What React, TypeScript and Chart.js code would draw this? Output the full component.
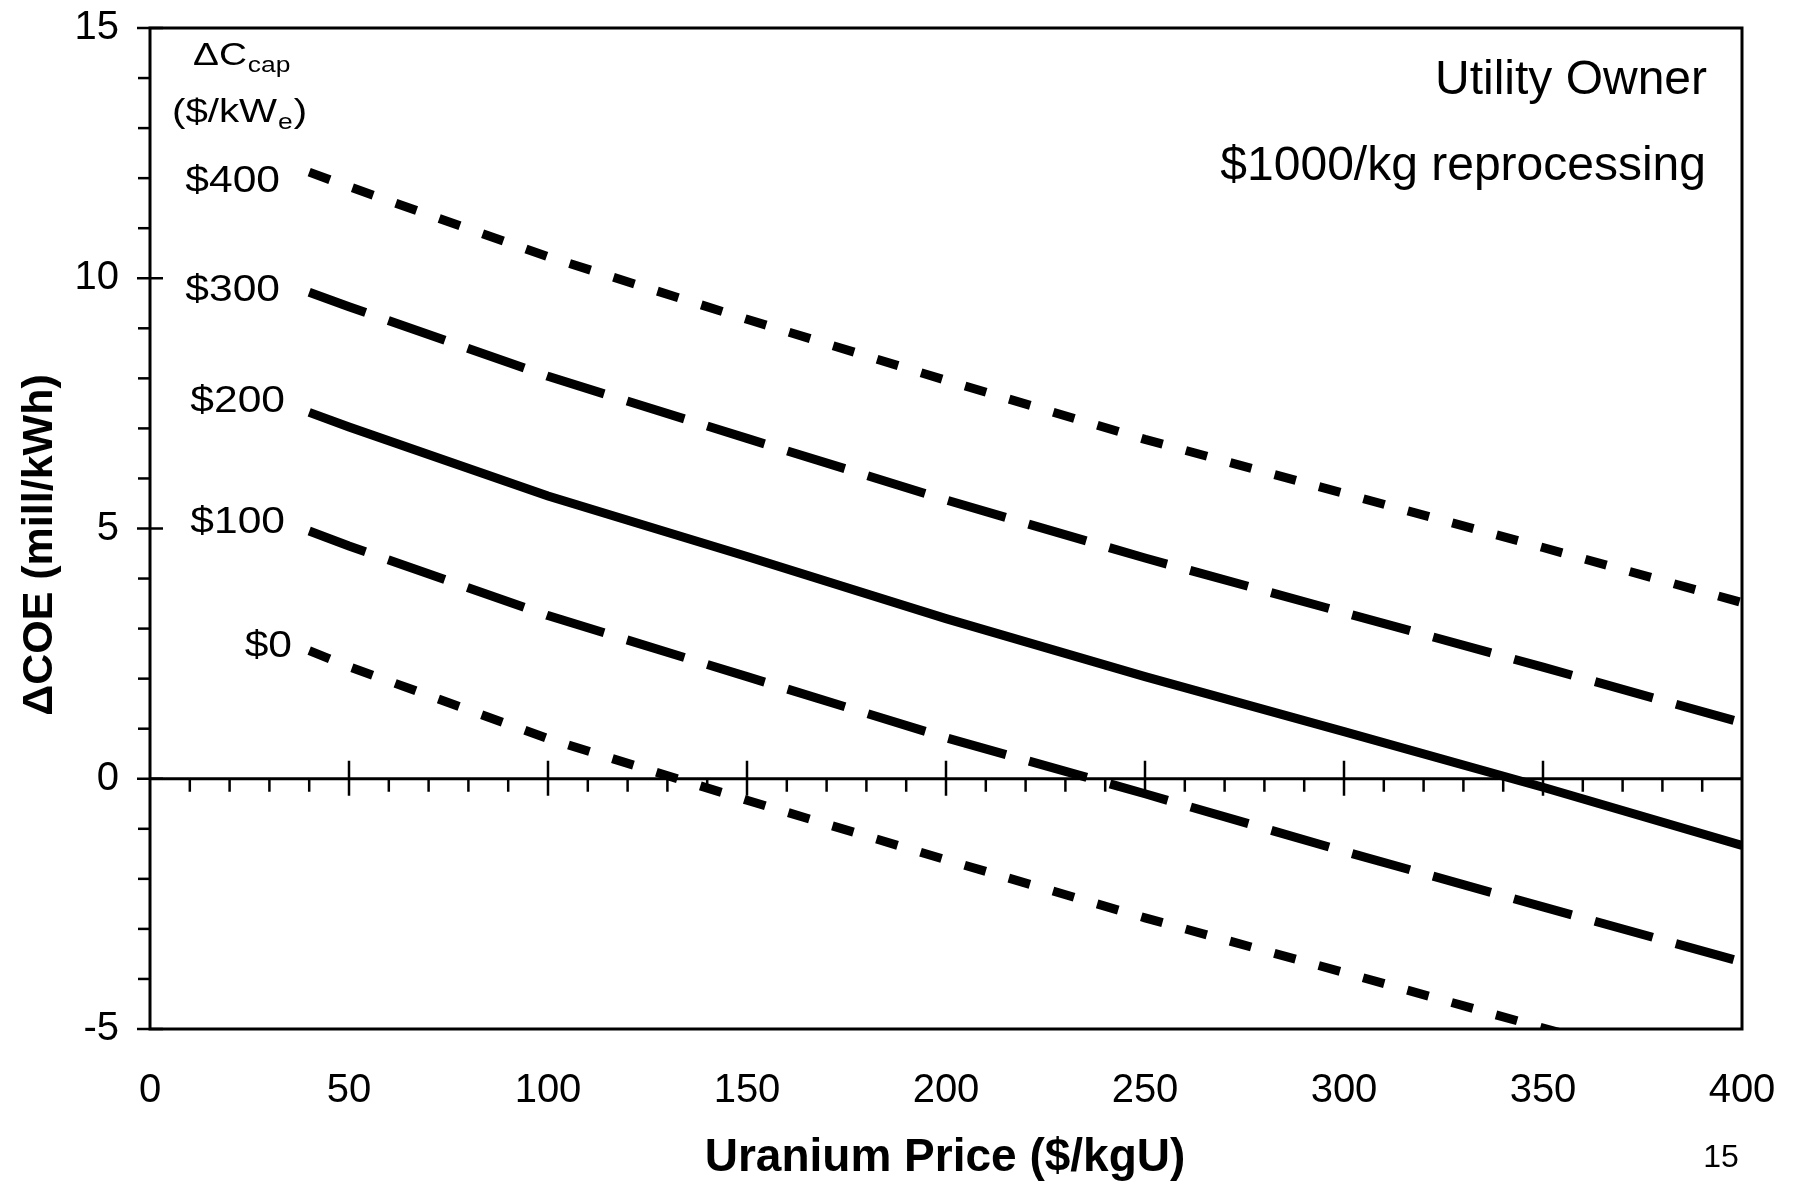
import { useEffect, useRef } from "react";
import { Chart, registerables } from "chart.js";

Chart.register(...registerables);

// ---- data ----
const uraniumPrice = [40, 50, 100, 150, 200, 250, 300, 350, 400];
const dcoeCap400 = [12.12, 11.83, 10.43, 9.18, 7.96, 6.78, 5.7, 4.62, 3.52];
const dcoeCap300 = [9.72, 9.43, 8.04, 6.8, 5.57, 4.41, 3.32, 2.23, 1.12];
const dcoeCap200 = [7.32, 7.03, 5.65, 4.44, 3.2, 2.04, 0.94, -0.17, -1.33];
const dcoeCap100 = [4.95, 4.65, 3.26, 2.04, 0.82, -0.3, -1.45, -2.56, -3.66];
const dcoeCap0 = [2.56, 2.24, 0.8, -0.43, -1.62, -2.78, -3.87, -4.98, -6.1];
const capLabels = ["$400", "$300", "$200", "$100", "$0"];
const xRange = [0, 400];
const yRange = [-5, 15];
const annotationLines = ["Utility Owner", "$1000/kg reprocessing"];

const FONT = '"Liberation Sans", Arial, Helvetica, sans-serif';

const toPoints = (ys: number[]) => ys.map((v, i) => ({ x: uraniumPrice[i], y: v }));

function stretchedText(ctx: any, text: string, x: number, y: number, sx: number, align: string) {
  ctx.save();
  ctx.translate(x, y);
  ctx.scale(sx, 1);
  ctx.textAlign = align;
  ctx.fillText(text, 0, 0);
  ctx.restore();
  return ctx.measureText(text).width * sx;
}

const decorPlugin = {
  id: "decor",
  beforeDatasetsDraw(chart: any) {
    const { ctx, chartArea: ca, scales } = chart;
    const x = scales.x;
    const y = scales.y;
    ctx.save();
    ctx.strokeStyle = "#000";
    ctx.lineWidth = 3;
    ctx.strokeRect(ca.left, ca.top, ca.right - ca.left, ca.bottom - ca.top);
    const y0 = y.getPixelForValue(0);
    ctx.beginPath();
    ctx.moveTo(ca.left, y0);
    ctx.lineTo(ca.right, y0);
    ctx.stroke();
    ctx.lineWidth = 2.5;
    for (let v = yRange[0]; v <= yRange[1]; v++) {
      const py = y.getPixelForValue(v);
      ctx.beginPath();
      if (v % 5 === 0) {
        ctx.moveTo(ca.left - 13, py);
        ctx.lineTo(ca.left + 13, py);
      } else {
        ctx.moveTo(ca.left - 12, py);
        ctx.lineTo(ca.left, py);
      }
      ctx.stroke();
    }
    for (let v = 10; v < xRange[1]; v += 10) {
      const px = x.getPixelForValue(v);
      ctx.beginPath();
      if (v % 50 === 0) {
        ctx.moveTo(px, y0 - 18);
        ctx.lineTo(px, y0 + 17);
      } else {
        ctx.moveTo(px, y0);
        ctx.lineTo(px, y0 + 13);
      }
      ctx.stroke();
    }
    ctx.restore();
  },
  afterDraw(chart: any) {
    const { ctx } = chart;
    ctx.save();
    ctx.fillStyle = "#000";
    ctx.textBaseline = "alphabetic";

    // ΔC_cap
    ctx.font = `31px ${FONT}`;
    let w = stretchedText(ctx, "\u0394C", 193, 65, 1.25, "left");
    ctx.font = `22px ${FONT}`;
    stretchedText(ctx, "cap", 193 + w + 1, 72, 1.2, "left");

    // ($/kW_e)
    ctx.font = `33px ${FONT}`;
    w = stretchedText(ctx, "($/kW", 172, 122, 1.22, "left");
    ctx.font = `22px ${FONT}`;
    const we = stretchedText(ctx, "e", 172 + w + 1, 129, 1.2, "left");
    ctx.font = `33px ${FONT}`;
    stretchedText(ctx, ")", 172 + w + we + 2, 122, 1.22, "left");

    // series labels
    ctx.font = `37px ${FONT}`;
    const lx = [280, 280, 285, 285, 292];
    const ly = [192, 301, 412, 533, 657];
    capLabels.forEach((t, i) => stretchedText(ctx, t, lx[i], ly[i], 1.15, "right"));

    // annotation
    ctx.textAlign = "right";
    ctx.font = `48px ${FONT}`;
    ctx.fillText(annotationLines[0], 1707, 94);
    ctx.fillText(annotationLines[1], 1706, 180);

    // axis titles
    ctx.textAlign = "center";
    ctx.font = `bold 46px ${FONT}`;
    ctx.fillText("Uranium Price ($/kgU)", 945, 1171);
    ctx.save();
    ctx.translate(40, 545);
    ctx.rotate(-Math.PI / 2);
    ctx.textBaseline = "middle";
    ctx.font = `bold 43px ${FONT}`;
    ctx.fillText("\u0394COE (mill/kWh)", 0, 0);
    ctx.restore();

    // page number
    ctx.textAlign = "center";
    ctx.font = `32px ${FONT}`;
    ctx.fillText("15", 1721, 1167);
    ctx.restore();
  },
};

export default function App() {
  const ref = useRef<HTMLCanvasElement | null>(null);
  useEffect(() => {
    if (!ref.current) return;
    const mk = (label: string, ys: number[], dash: number[]) => ({
      label,
      data: toPoints(ys),
      borderColor: "#000",
      backgroundColor: "#000",
      borderWidth: 9,
      borderDash: dash,
      pointRadius: 0,
      tension: 0,
      fill: false,
    });
    const chart = new Chart(ref.current, {
      type: "line",
      data: {
        datasets: [
          mk(capLabels[0], dcoeCap400, [22, 24]),
          mk(capLabels[1], dcoeCap300, [60, 24]),
          mk(capLabels[2], dcoeCap200, []),
          mk(capLabels[3], dcoeCap100, [60, 24]),
          mk(capLabels[4], dcoeCap0, [22, 24]),
        ],
      },
      options: {
        animation: false,
        responsive: false,
        maintainAspectRatio: false,
        layout: { padding: { left: 0, right: 55, top: 28, bottom: 0 } },
        plugins: {
          legend: { display: false },
          tooltip: { enabled: false },
          title: { display: false },
        },
        scales: {
          x: {
            type: "linear",
            min: xRange[0],
            max: xRange[1],
            ticks: {
              stepSize: 50,
              color: "#000",
              padding: 38,
              font: { size: 40, family: FONT },
              maxRotation: 0,
            },
            grid: { display: false, drawTicks: false },
            border: { display: false },
            afterFit: (s: any) => {
              s.height = 152;
              s.paddingLeft = 0;
              s.paddingRight = 0;
            },
          },
          y: {
            type: "linear",
            min: yRange[0],
            max: yRange[1],
            ticks: {
              stepSize: 5,
              color: "#000",
              padding: 31,
              font: { size: 40, family: FONT },
            },
            grid: { display: false, drawTicks: false },
            border: { display: false },
            afterFit: (s: any) => {
              s.width = 150;
              s.paddingTop = 0;
              s.paddingBottom = 0;
            },
          },
        },
      },
      plugins: [decorPlugin],
    });
    return () => chart.destroy();
  }, []);
  return (
    <div style={{ position: "fixed", left: 0, top: 0, width: 1797, height: 1181, background: "#fff" }}>
      <canvas ref={ref} width={1797} height={1181} style={{ width: 1797, height: 1181, display: "block" }} />
    </div>
  );
}
